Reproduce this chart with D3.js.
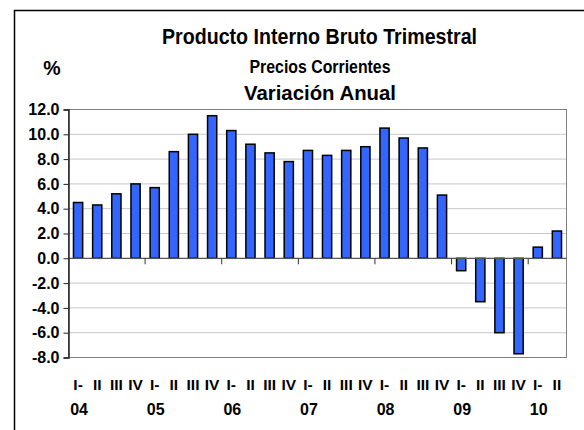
<!DOCTYPE html>
<html>
<head>
<meta charset="utf-8">
<script src="https://cdn.jsdelivr.net/npm/d3@7"></script>
<style>
  body { margin: 0; background: #fff; }
  text { font-family: "Liberation Sans", Arial, sans-serif; font-weight: bold; fill: #000; }
</style>
</head>
<body>
<svg id="chart" width="584" height="430"></svg>
<script>
// quarterly annual variation, 2004-I .. 2010-II
var quarters = ["I-", "II", "III", "IV"];
var years = ["04", "05", "06", "07", "08", "09", "10"];
var values = [4.5, 4.3, 5.2, 6.0, 5.7, 8.6, 10.0, 11.5, 10.3, 9.2, 8.5, 7.8,
              8.7, 8.3, 8.7, 9.0, 10.5, 9.7, 8.9, 5.1, -1.0, -3.5, -6.0, -7.7, 0.9, 2.2];
var yTicks = [12, 10, 8, 6, 4, 2, 0, -2, -4, -6, -8];

var svg = d3.select("#chart");

var plotLeft = 68.5, plotRight = 566.5, plotTop = 109.5, plotBottom = 357.5;

var x = d3.scaleBand()
    .domain(d3.range(values.length))
    .range([plotLeft, plotRight]);

var y = d3.scaleLinear()
    .domain([-8, 12])
    .range([plotBottom, plotTop]);

// outer frame (only top and left fall inside the picture)
svg.append("rect")
    .attr("x", 14.5).attr("y", 10.5)
    .attr("width", 600).attr("height", 450)
    .attr("fill", "none").attr("stroke", "#000").attr("stroke-width", 1.5);

// titles (glyphs in the original are a bit narrow, so squeeze to measured width)
function title(txt, cx, cy, size, len) {
  var t = svg.append("text").attr("x", cx).attr("y", cy)
      .attr("text-anchor", "middle")
      .style("font-size", size + "px")
      .text(txt);
  if (len) t.attr("textLength", len).attr("lengthAdjust", "spacingAndGlyphs");
}
title("Producto Interno Bruto Trimestral", 319.5, 43.5, 21.5, 315);
title("Precios Corrientes", 320, 72.5, 17.5, 141);
title("Variación Anual", 320, 100, 21, 152);
title("%", 52, 75, 19.5);

// grid lines
svg.selectAll(".grid")
    .data(yTicks.filter(function(d) { return d != 0; }))
    .enter().append("line")
    .attr("class", "grid")
    .attr("x1", plotLeft).attr("x2", plotRight)
    .attr("y1", function(d) { return y(d); })
    .attr("y2", function(d) { return y(d); })
    .attr("stroke", "#c8c8c8").attr("stroke-width", 1);

// plot border
svg.append("rect")
    .attr("x", plotLeft).attr("y", plotTop)
    .attr("width", plotRight - plotLeft).attr("height", plotBottom - plotTop)
    .attr("fill", "none").attr("stroke", "#808080").attr("stroke-width", 1);

// bars
var bw = x.bandwidth() * 0.48;
svg.selectAll(".bar")
    .data(values)
    .enter().append("rect")
    .attr("class", "bar")
    .attr("x", function(d, i) { return x(i) + (x.bandwidth() - bw) / 2; })
    .attr("width", bw)
    .attr("y", function(d) { return d >= 0 ? y(d) : y(0); })
    .attr("height", function(d) { return Math.abs(y(d) - y(0)); })
    .attr("fill", "#3366ff")
    .attr("stroke", "#000")
    .attr("stroke-width", 1.5);

// zero line with year ticks
svg.append("line")
    .attr("x1", plotLeft).attr("x2", plotRight)
    .attr("y1", y(0)).attr("y2", y(0))
    .attr("stroke", "#555").attr("stroke-width", 1.2);

svg.selectAll(".xtick")
    .data(d3.range(4, values.length, 4))
    .enter().append("line")
    .attr("class", "xtick")
    .attr("x1", function(d) { return x(d); })
    .attr("x2", function(d) { return x(d); })
    .attr("y1", y(0)).attr("y2", y(0) + 6)
    .attr("stroke", "#333").attr("stroke-width", 1);

// y axis
var fmt = d3.format(".1f");
var yAxis = d3.axisLeft(y)
    .tickValues(yTicks)
    .tickSize(5)
    .tickPadding(4)
    .tickFormat(function(d) { return fmt(d).replace("\u2212", "-"); });

var gy = svg.append("g")
    .attr("transform", "translate(" + plotLeft + ",0)")
    .call(yAxis);
gy.select(".domain").attr("stroke", "#222").attr("stroke-width", 1.5);
gy.selectAll(".tick line").attr("stroke", "#222");
gy.selectAll(".tick text")
    .style("font-size", "16px")
    .style("font-family", "'Liberation Sans', Arial, sans-serif")
    .style("font-weight", "bold")
    .attr("fill", "#000");

// category labels
svg.selectAll(".qlabel")
    .data(values)
    .enter().append("text")
    .attr("class", "qlabel")
    .attr("x", function(d, i) { return x(i) + x.bandwidth() / 2; })
    .attr("y", 390)
    .attr("text-anchor", "middle")
    .style("font-size", "15.5px")
    .text(function(d, i) { return quarters[i % 4]; });

svg.selectAll(".ylabel")
    .data(years)
    .enter().append("text")
    .attr("class", "ylabel")
    .attr("x", function(d, i) { return x(i * 4) + x.bandwidth() / 2 + 1; })
    .attr("y", 415)
    .attr("text-anchor", "middle")
    .style("font-size", "16px")
    .text(function(d) { return d; });
</script>
</body>
</html>
